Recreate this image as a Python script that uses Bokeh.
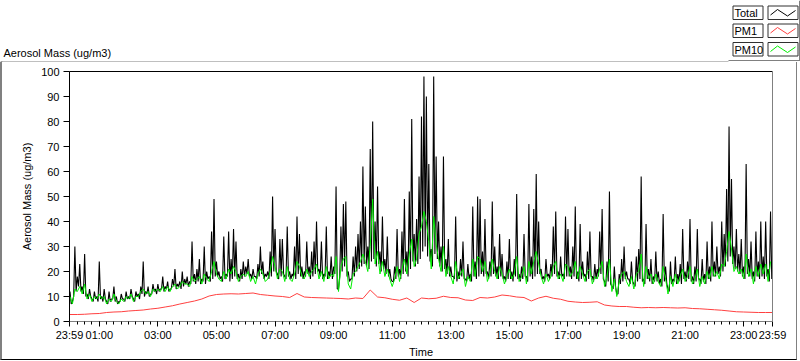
from bokeh.plotting import figure
from bokeh.layouts import column
from bokeh.models import Range1d, FixedTicker, LinearAxis, Label, ColumnDataSource
from bokeh.embed import file_html
from bokeh.resources import INLINE

FONT = "Liberation Sans"

# ---------------- data ----------------
# Total: values at every 5 minutes (upper points) ...
minutes_5 = list(range(0, 1440, 5))

total = [
    12, 8, 30, 18, 23, 14, 27, 11, 13, 9, 12, 10,        # 00h
    24, 10, 13, 8, 12, 9, 14, 10, 8, 11, 9, 12,          # 01h
    10, 13, 9, 12, 11, 14, 24, 12, 14, 11, 15, 13,       # 02h
    15, 13, 18, 14, 16, 13, 17, 21, 15, 16, 20, 17,      # 03h
    18, 16, 32, 19, 21, 25, 17, 30, 20, 18, 36, 49,      # 04h
    24, 20, 18, 34, 19, 36, 25, 37, 32, 19, 21, 24,      # 05h
    22, 25, 19, 21, 18, 23, 30, 24, 19, 20, 28, 50,      # 06h
    37, 19, 33, 33, 18, 38, 20, 19, 30, 42, 35, 22,      # 07h
    20, 32, 22, 28, 32, 40, 21, 32, 19, 38, 20, 26,      # 08h
    22, 54, 13, 38, 47, 48, 20, 17, 26, 30, 35, 40,      # 09h
    62, 46, 30, 69, 80, 40, 54, 28, 42, 25, 34, 21,      # 10h
    16, 22, 37, 21, 36, 49, 28, 52, 81, 35, 41, 58,      # 11h
    82, 98, 90, 63, 29, 98, 66, 40, 30, 66, 25, 33,      # 12h
    22, 18, 42, 20, 25, 32, 17, 23, 19, 46, 24, 50,      # 13h
    49, 28, 41, 20, 24, 48, 30, 22, 35, 27, 18, 24,      # 14h
    33, 20, 25, 51, 19, 22, 35, 18, 47, 26, 45, 59,      # 15h
    40, 21, 18, 25, 19, 23, 38, 44, 20, 26, 19, 42,      # 16h
    37, 22, 30, 46, 20, 39, 24, 19, 28, 36, 18, 23,      # 17h
    21, 36, 45, 16, 24, 52, 14, 22, 11, 19, 25, 30,      # 18h
    20, 17, 24, 15, 26, 29, 58, 17, 39, 21, 25, 18,      # 19h
    28, 20, 17, 43, 22, 13, 24, 17, 26, 19, 23, 37,      # 20h
    20, 24, 41, 18, 22, 37, 17, 25, 19, 32, 22, 40,      # 21h
    24, 30, 22, 40, 35, 53, 78, 57, 30, 37, 27, 33,      # 22h
    22, 63, 25, 32, 20, 36, 24, 40, 26, 40, 21, 44,      # 23h
]

# ... and the lower edge of the noisy Total band, 2.5 minutes later
total_low = [
    7, 10, 12, 14, 12, 11, 10, 9, 10, 8, 9, 8,
    9, 8, 9, 7, 8, 9, 8, 7, 8, 9, 8, 9,
    9, 10, 8, 10, 9, 11, 10, 11, 10, 11, 12, 11,
    12, 13, 12, 13, 12, 13, 14, 13, 14, 13, 14, 15,
    14, 15, 16, 15, 16, 15, 16, 15, 17, 16, 17, 18,
    18, 17, 16, 17, 18, 16, 17, 18, 17, 16, 17, 18,
    19, 18, 17, 18, 17, 18, 19, 17, 18, 17, 18, 20,
    20, 17, 18, 19, 17, 18, 17, 18, 17, 19, 18, 17,
    18, 19, 17, 18, 19, 20, 18, 17, 18, 17, 18, 17,
    19, 13, 18, 20, 22, 18, 16, 17, 18, 20, 21, 22,
    23, 22, 21, 24, 25, 22, 23, 20, 21, 19, 18, 17,
    16, 17, 18, 17, 19, 20, 18, 21, 24, 22, 23, 25,
    28, 30, 26, 24, 22, 27, 25, 22, 20, 21, 19, 18,
    18, 17, 16, 17, 18, 17, 16, 17, 16, 18, 17, 18,
    19, 18, 19, 17, 18, 19, 18, 17, 18, 17, 16, 17,
    17, 16, 18, 17, 16, 17, 18, 16, 18, 17, 18, 19,
    19, 17, 16, 18, 17, 18, 19, 18, 17, 18, 17, 18,
    18, 17, 18, 17, 16, 17, 18, 16, 17, 18, 16, 17,
    18, 19, 17, 14, 16, 15, 13, 14, 11, 15, 16, 17,
    17, 15, 16, 14, 16, 17, 16, 15, 17, 16, 15, 16,
    16, 15, 14, 16, 15, 12, 15, 16, 15, 16, 15, 17,
    16, 17, 16, 15, 16, 17, 15, 16, 15, 17, 16, 18,
    18, 19, 18, 20, 22, 24, 26, 23, 21, 20, 19, 18,
    17, 19, 18, 17, 16, 18, 17, 18, 17, 18, 16, 17,
]

pm10 = [
    10, 7, 13, 12, 14, 11, 15, 9, 11, 8, 10, 9,
    11, 9, 10, 7, 9, 8, 11, 8, 7, 9, 8, 10,
    9, 11, 8, 10, 10, 12, 13, 11, 12, 10, 13, 12,
    13, 12, 14, 12, 14, 12, 14, 15, 13, 14, 16, 15,
    15, 14, 18, 16, 17, 18, 15, 19, 17, 16, 20, 24,
    19, 17, 16, 20, 17, 21, 19, 22, 20, 16, 18, 19,
    18, 20, 16, 18, 15, 19, 21, 19, 16, 17, 20, 26,
    22, 17, 21, 20, 16, 22, 17, 16, 19, 24, 22, 18,
    17, 21, 18, 20, 21, 23, 17, 20, 16, 22, 17, 19,
    18, 26, 12, 22, 25, 26, 15, 13, 19, 20, 22, 24,
    27, 24, 20, 30, 49, 23, 28, 19, 24, 18, 21, 17,
    14, 17, 22, 16, 21, 25, 19, 27, 33, 22, 25, 35,
    38, 44, 40, 32, 21, 42, 31, 25, 20, 30, 18, 22,
    18, 15, 24, 17, 19, 21, 14, 18, 16, 25, 18, 26,
    25, 20, 24, 16, 19, 25, 20, 17, 22, 19, 15, 18,
    21, 17, 19, 26, 16, 18, 22, 15, 24, 19, 24, 28,
    23, 18, 15, 19, 16, 18, 22, 24, 17, 19, 16, 23,
    22, 18, 20, 24, 17, 22, 19, 16, 20, 21, 15, 18,
    17, 21, 24, 14, 18, 25, 12, 17, 10, 16, 19, 20,
    16, 14, 18, 13, 19, 20, 27, 14, 22, 17, 19, 15,
    19, 16, 14, 22, 17, 11, 18, 14, 19, 15, 18, 21,
    16, 18, 22, 15, 17, 21, 14, 18, 15, 20, 17, 22,
    18, 20, 17, 23, 22, 28, 36, 29, 20, 22, 19, 21,
    17, 27, 18, 21, 15, 22, 18, 23, 19, 23, 16, 24,
]

minutes_15 = list(range(0, 1440, 15)) + [1439]
pm1 = [
    2.8, 2.8, 2.9, 3.1,  3.2, 3.6, 3.8, 3.9,  4.2, 4.4, 4.6, 5.0,
    5.3, 5.8, 6.3, 7.0,  7.6, 8.2, 9.0, 10.2,  10.8, 11.0, 11.1, 11.0,
    11.2, 11.4, 10.8, 10.5,  10.2, 10.0, 9.6, 11.2,  9.8, 9.6, 9.5, 9.4,
    9.3, 9.2, 9.0, 9.4,  9.2, 12.6, 9.8, 9.5,  8.9, 8.5, 9.4, 7.6,
    9.4, 9.1, 9.3, 10.1,  9.6, 9.5, 8.6, 8.4,  9.6, 9.4, 9.8, 10.6,
    10.3, 9.8, 9.6, 8.2,  9.4, 10.1, 9.3, 8.9,  8.1, 7.8, 7.6, 7.7,
    7.9, 6.6, 6.2, 6.0,  6.0, 5.7, 5.5, 5.6,  5.5, 5.6, 5.5, 5.4,
    5.5, 5.2, 5.1, 4.9,  4.7, 4.5, 4.2, 3.9,  3.8, 3.7, 3.6, 3.6,
    3.6,
]

tick_minutes = [-1, 60, 180, 300, 420, 540, 660, 780, 900, 1020, 1140, 1260, 1380, 1439]
tick_labels = ["23:59", "01:00", "03:00", "05:00", "07:00", "09:00", "11:00", "13:00",
               "15:00", "17:00", "19:00", "21:00", "23:00", "23:59"]
minor_minutes = list(range(15, 1440, 15))
y_ticks = [0, 10, 20, 30, 40, 50, 60, 70, 80, 90, 100]

series_names = ["Total", "PM1", "PM10"]
series_colors = ["#000000", "#ff4040", "#00ee00"]
GREY = "#808080"

# Total series: upper points and band-floor points in time order
t_total, v_total = [], []
for t, hi, lo in zip(minutes_5, total, total_low):
    t_total += [t, t + 2.5]
    v_total += [hi, lo]

# ---------------- header: chart label + legend ----------------
hdr = figure(width=800, height=62, x_range=Range1d(0, 800), y_range=Range1d(62, 0),
             output_backend="svg", toolbar_location=None, min_border=0,
             x_axis_type=None, y_axis_type=None,
             background_fill_color="white", border_fill_color="white")
hdr.outline_line_color = None
hdr.frame_align = False
hdr.add_layout(Label(x=3, y=52, text="Aerosol Mass (ug/m3)", text_font=FONT,
                     text_font_size="11px", text_color="black", text_baseline="middle"))
hdr.quad(left=[0, 728, 798.5, 0], right=[728, 800, 800, 2],
         top=[61, 59.5, 0, 61], bottom=[62, 60.5, 60.5, 62], color=GREY, line_color=None)

row_tops = [5.5, 23.5, 42]
for name, color, top in zip(series_names, series_colors, row_tops):
    hdr.quad(left=[732.5, 767.5], right=[762.5, 797.5], top=[top, top],
             bottom=[top + 13.5, top + 13.5], fill_color="white", line_color="#303030",
             line_width=1)
    hdr.add_layout(Label(x=734, y=top + 7, text=name, text_font=FONT,
                         text_font_size="11px", text_color="black", text_baseline="middle"))
    hdr.line(x=[770, 777, 787, 795], y=[top + 9, top + 3.5, top + 10, top + 4.5],
             color=color, line_width=1)

# ---------------- main chart ----------------
fig = figure(width=797, height=298, output_backend="svg", toolbar_location=None,
             x_range=Range1d(-1, 1439), y_range=Range1d(0, 100),
             min_border_left=67, min_border_right=27, min_border_top=9, min_border_bottom=39,
             background_fill_color="white", border_fill_color="white")
fig.frame_align = False
fig.styles = {"border-left": "2px solid #808080", "border-right": "1px solid #808080",
              "border-bottom": "1px solid #000000"}
fig.outline_line_color = None
fig.grid.visible = False

src_t = ColumnDataSource(dict(t=t_total, v=v_total))
src5 = ColumnDataSource(dict(t=minutes_5, pm10=pm10))
src15 = ColumnDataSource(dict(t=minutes_15, pm1=pm1))
# drawing order as in the original: Total, PM1, PM10 (PM10 on top)
fig.line("t", "v", source=src_t, color=series_colors[0], line_width=1.1)
fig.line("t", "pm1", source=src15, color=series_colors[1], line_width=1)
fig.line("t", "pm10", source=src5, color=series_colors[2], line_width=1)

xa = fig.xaxis[0]
xa.ticker = FixedTicker(ticks=tick_minutes, minor_ticks=minor_minutes)
xa.major_label_overrides = {t: l for t, l in zip(tick_minutes, tick_labels)}
xa.axis_label = "Time"
xa.axis_line_color = GREY
xa.major_tick_out = 5
xa.major_tick_in = 0
xa.minor_tick_out = 3
xa.minor_tick_in = 0
xa.major_tick_line_color = "black"
xa.minor_tick_line_color = "black"
xa.major_label_standoff = 2
xa.axis_label_standoff = 2

ya = fig.yaxis[0]
ya.ticker = FixedTicker(ticks=y_ticks, minor_ticks=[])
ya.axis_label = "Aerosol Mass (ug/m3)"
ya.axis_line_color = "black"
ya.major_tick_out = 6
ya.major_tick_in = 0
ya.major_tick_line_color = "black"
ya.major_label_standoff = 4
ya.axis_label_standoff = 5

for ax in (xa, ya):
    ax.major_label_text_font = FONT
    ax.major_label_text_font_size = "11px"
    ax.major_label_text_color = "black"
    ax.axis_label_text_font = FONT
    ax.axis_label_text_font_size = "11px"
    ax.axis_label_text_font_style = "normal"
    ax.axis_label_text_color = "black"

top_ax = LinearAxis(ticker=FixedTicker(ticks=[]), axis_line_color="black",
                    major_tick_line_color=None, minor_tick_line_color=None,
                    major_label_text_font_size="0px", major_label_standoff=0)
right_ax = LinearAxis(ticker=FixedTicker(ticks=[]), axis_line_color=GREY,
                      major_tick_line_color=None, minor_tick_line_color=None,
                      major_label_text_font_size="0px", major_label_standoff=0)
fig.add_layout(top_ax, "above")
fig.add_layout(right_ax, "right")

p = column(hdr, fig, spacing=0)

open("out.html", "w").write(file_html(p, INLINE))
